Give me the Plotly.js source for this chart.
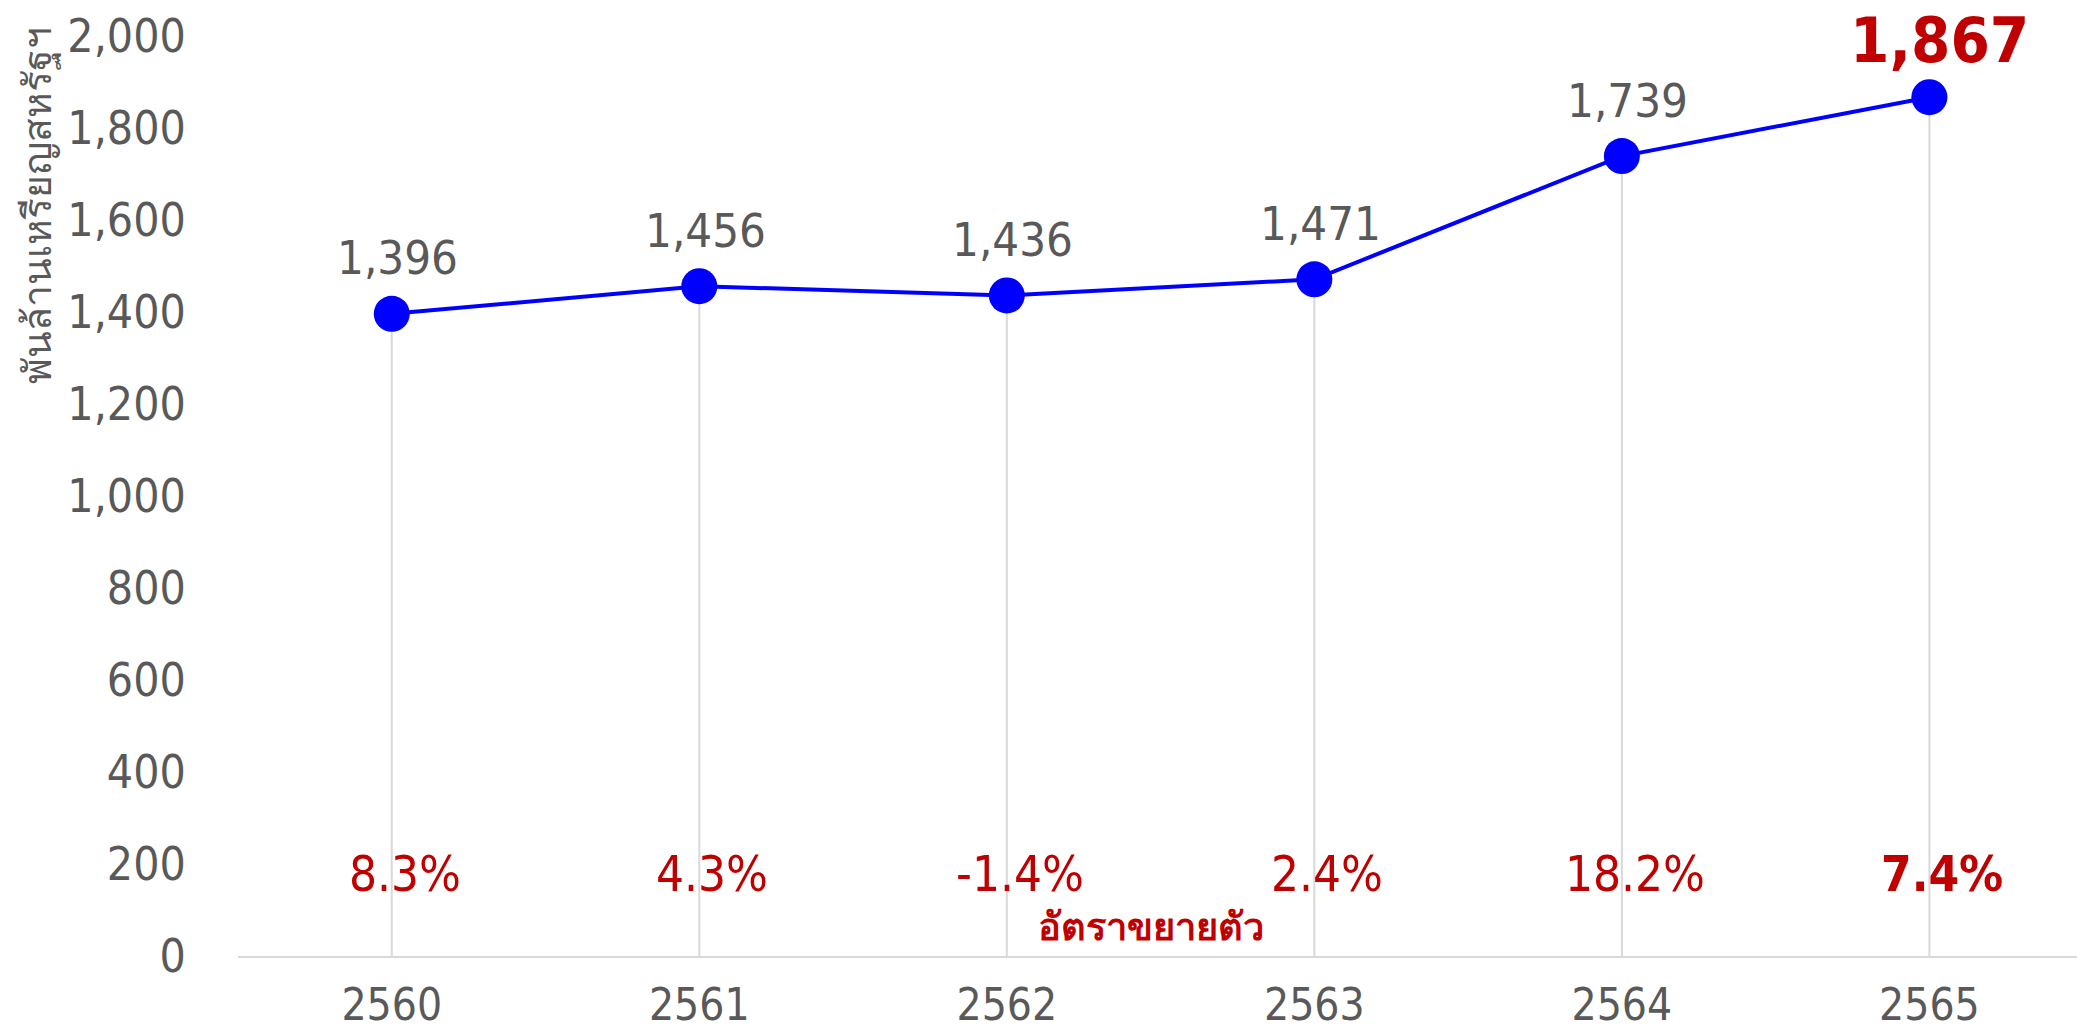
<!DOCTYPE html>
<html>
<head>
<meta charset="utf-8">
<script src="https://cdn.plot.ly/plotly-3.0.1.min.js"></script>
<style>html,body{margin:0;padding:0;background:#fff;}#chart{width:2077px;height:1033px;}</style>
</head>
<body>
<div id="chart"></div>
<script>
var years = ['2560', '2561', '2562', '2563', '2564', '2565'];
var values = [1396, 1456, 1436, 1471, 1739, 1867];
var valueLabels = ['1,396', '1,456', '1,436', '1,471', '1,739', '1,867'];
var growthLabels = ['8.3%', '4.3%', '-1.4%', '2.4%', '18.2%', '7.4%'];
var yTitle = 'พันล้านเหรียญสหรัฐฯ';
var growthTitle = 'อัตราขยายตัว';

var FONT = "'DejaVu Sans Condensed', 'DejaVu Sans', 'Noto Sans', sans-serif";
var GRAY = '#595959';
var RED = '#C00000';

var zeros = values.map(function(){ return 0; });

var trace = {
  type: 'scatter',
  mode: 'lines+markers',
  x: years,
  y: values,
  line: {color: '#0000FF', width: 4},
  marker: {color: '#0000FF', size: 36},
  error_y: {type: 'data', symmetric: false, array: zeros, arrayminus: values,
            color: '#D9D9D9', thickness: 2, width: 0},
  hoverinfo: 'x+y',
  cliponaxis: false
};

var annotations = [];
var last = years.length - 1;
years.forEach(function(yr, i) {
  var isLast = (i === last);
  annotations.push({
    x: i, y: values[i], xref: 'x', yref: 'y',
    xanchor: 'center', yanchor: 'middle',
    text: isLast ? '<b>' + valueLabels[i] + '</b>' : valueLabels[i],
    showarrow: false, yshift: isLast ? 57 : 56, xshift: isLast ? 10 : 6,
    font: {family: FONT, size: isLast ? 63 : 47, color: isLast ? RED : GRAY}
  });
  annotations.push({
    x: i, y: 178, xref: 'x', yref: 'y',
    xanchor: 'center', yanchor: 'middle',
    text: isLast ? '<b>' + growthLabels[i] + '</b>' : growthLabels[i],
    showarrow: false, xshift: 13,
    font: {family: FONT, size: 49, color: RED}
  });
});
annotations.push({
  x: 2.47, y: 63, xref: 'x', yref: 'y',
  xanchor: 'center', yanchor: 'middle',
  text: '<b>' + growthTitle + '</b>', showarrow: false,
  font: {family: FONT, size: 38, color: RED}
});
annotations.push({
  x: -0.1085, y: 0.816, xref: 'paper', yref: 'paper',
  xanchor: 'center', yanchor: 'middle',
  text: yTitle, textangle: -90, showarrow: false,
  font: {family: FONT, size: 39, color: GRAY}
});

var layout = {
  width: 2077, height: 1033,
  margin: {l: 238, r: 0, t: 36, b: 77, pad: 0},
  paper_bgcolor: '#FFFFFF', plot_bgcolor: '#FFFFFF',
  showlegend: false,
  font: {family: FONT, color: GRAY},
  xaxis: {
    type: 'category', range: [-0.5, 5.48],
    showgrid: false, zeroline: false,
    showline: true, linecolor: '#D9D9D9', linewidth: 2,
    ticks: 'outside', ticklen: 9, tickcolor: 'rgba(0,0,0,0)',
    tickfont: {family: FONT, size: 44, color: GRAY}
  },
  yaxis: {
    range: [0, 2000], dtick: 200, tickformat: ',d',
    showgrid: false, zeroline: false, showline: false,
    ticks: 'outside', ticklen: 42, tickcolor: 'rgba(0,0,0,0)',
    tickfont: {family: FONT, size: 46, color: GRAY}
  },
  annotations: annotations
};

Plotly.newPlot('chart', [trace], layout, {displayModeBar: false, staticPlot: true});
</script>
</body>
</html>
